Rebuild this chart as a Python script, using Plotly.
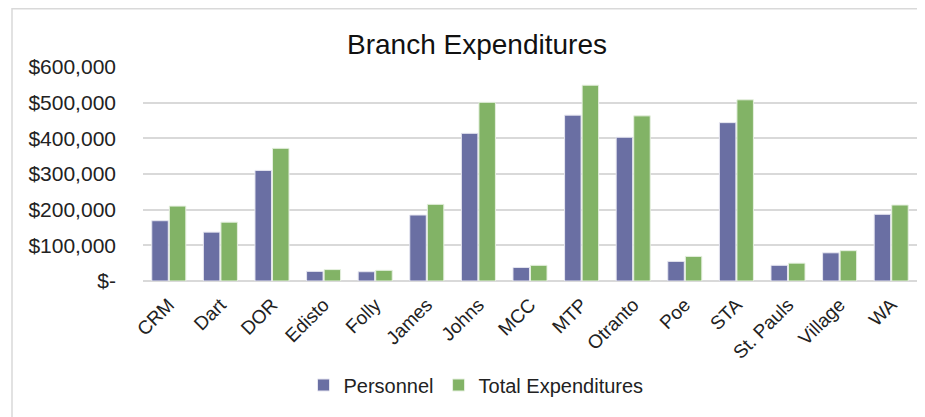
import plotly.graph_objects as go

branches = ["CRM", "Dart", "DOR", "Edisto", "Folly", "James", "Johns", "MCC", "MTP",
            "Otranto", "Poe", "STA", "St. Pauls", "Village", "WA"]
personnel = [169000, 137000, 310000, 27000, 26000, 185000, 414000, 38000, 465000,
             403000, 55000, 444000, 44000, 79000, 187000]
total_exp = [210000, 165000, 372000, 32000, 30000, 215000, 501000, 44000, 549000,
             463000, 69000, 508000, 50000, 85000, 213000]
tick_vals = [0, 100000, 200000, 300000, 400000, 500000, 600000]
tick_text = ["$-", "$100,000", "$200,000", "$300,000", "$400,000", "$500,000", "$600,000"]

FONT = "Liberation Sans"
OFF = 8  # page body margin
W, H = 925 - OFF, 417 - OFF
# plot area in screen coordinates: x 143..917, y 67..281
L = 143 - OFF
R = W - (917 - OFF)
T = 67 - OFF
B = H - (281 - OFF)
pw, ph = W - L - R, H - T - B

def px(x):
    return (x - OFF - L) / pw

def py(y):
    return (H - B - (y - OFF)) / ph

fig = go.Figure()
fig.add_trace(go.Bar(name="Personnel", x=branches, y=personnel,
                     marker=dict(color="#6a6fa3", line=dict(color="#e6e6f0", width=1))))
fig.add_trace(go.Bar(name="Total Expenditures", x=branches, y=total_exp,
                     marker=dict(color="#82b366", line=dict(color="#e6f0e0", width=1))))

fig.update_layout(
    width=W, height=H,
    margin=dict(l=L, r=R, t=T, b=B, autoexpand=False),
    paper_bgcolor="white", plot_bgcolor="white",
    font=dict(family=FONT, color="#222222"),
    barmode="group", bargap=0.32, bargroupgap=0.06,
    title=dict(text="Branch Expenditures", x=(477 - OFF) / W, xanchor="center",
               y=1 - (44 - OFF) / H, yanchor="middle",
               font=dict(size=28, family=FONT, color="#111111")),
    xaxis=dict(tickangle=-45, tickfont=dict(size=19), showgrid=False, showline=False,
               ticks="", automargin=False, ticklabelstandoff=8),
    yaxis=dict(range=[0, 600000], tickvals=tick_vals, ticktext=tick_text,
               tickfont=dict(size=21), gridcolor="#d9d9d9", gridwidth=1.5,
               zeroline=True, zerolinecolor="#d9d9d9", zerolinewidth=1.5,
               showline=False, ticklabelstandoff=26, automargin=False),
    legend=dict(orientation="h", xref="container", yref="container",
                x=(476 - OFF) / W, xanchor="center", y=1 - (385 - OFF) / H, yanchor="middle",
                font=dict(size=20), itemwidth=30, traceorder="normal"),
    shapes=[dict(type="rect", xref="paper", yref="paper",
                 x0=px(12), x1=px(940), y0=py(440), y1=py(OFF + 0.75),
                 line=dict(color="#d9d9d9", width=1.5), layer="below")],
)

fig.write_html("out.html")
